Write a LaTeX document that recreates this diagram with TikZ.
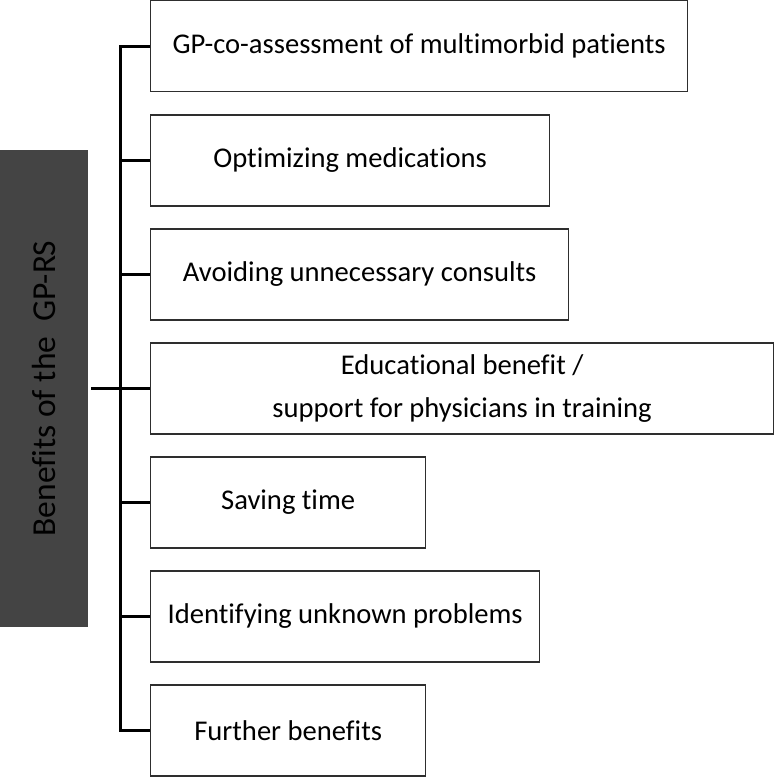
\documentclass[tikz,border=0pt]{standalone}
\usepackage{fontspec}
\setmainfont[Ligatures=NoCommon]{Carlito}
\definecolor{panel}{HTML}{444444}
\definecolor{frame}{HTML}{2E2E2E}
\begin{document}
\begin{tikzpicture}[x=1pt,y=-1pt,
  item/.style={draw=frame, line width=1.3pt, fill=white, anchor=west,
    minimum height=91pt, inner sep=0pt, align=center,
    font=\fontsize{28.6}{43}\selectfont},
  branch/.style={line width=3pt, black},
  titlebox/.style={fill=panel, minimum width=477pt, minimum height=88pt,
    inner sep=0pt, rotate=90, font=\fontsize{33.5}{40}\selectfont, text=black}]
\useasboundingbox (0,0) rectangle (774,777);

% title panel on the left
\node[titlebox] (main) at (44,388.5) {Benefits of the \ GP-RS};

% benefit boxes
\node[item, minimum width=537pt] (b1) at (150,46)    {GP-co-assessment of multimorbid patients};
\node[item, minimum width=399pt] (b2) at (150,160.5) {Optimizing medications};
\node[item, minimum width=418pt] (b3) at (150,274.5) {Avoiding unnecessary consults};
\node[item, minimum width=623pt] (b4) at (150,388.5) {Educational benefit /\\support for physicians in training};
\node[item, minimum width=275pt] (b5) at (150,502.5) {Saving time};
\node[item, minimum width=389pt] (b6) at (150,616.5) {Identifying unknown problems};
\node[item, minimum width=275pt] (b7) at (150,730.5) {Further benefits};

% bracket joining the boxes
\coordinate (spine) at (120,0);
\draw[branch] (b1.west) -- (b1.west -| spine) -- (b7.west -| spine) -- (b7.west);
\foreach \b in {b2,b3,b4,b5,b6}
  \draw[branch] (\b.west) -- (\b.west -| spine);
\draw[branch] ([xshift=3pt]main.south) -- (main.south -| spine);
\end{tikzpicture}
\end{document}
